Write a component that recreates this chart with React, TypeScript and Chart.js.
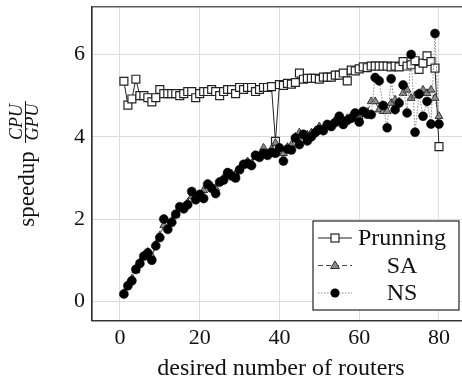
import React, { useEffect, useRef } from "react";
import { Chart, registerables } from "chart.js";

Chart.register(...registerables);

// desired number of routers (x values)
const routers: number[] = [
  1, 2, 3, 4, 5, 6, 7, 8, 9, 10, 11, 12, 13, 14, 15, 16, 17, 18, 19, 20,
  21, 22, 23, 24, 25, 26, 27, 28, 29, 30, 31, 32, 33, 34, 35, 36, 37, 38, 39, 40,
  41, 42, 43, 44, 45, 46, 47, 48, 49, 50, 51, 52, 53, 54, 55, 56, 57, 58, 59, 60,
  61, 62, 63, 64, 65, 66, 67, 68, 69, 70, 71, 72, 73, 74, 75, 76, 77, 78, 79, 80,
];

const prunning: number[] = [
  5.35, 4.77, 4.92, 5.4, 5.0, 5.0, 4.95, 4.85, 4.95, 5.15,
  5.05, 5.05, 5.05, 5.05, 5.0, 5.05, 5.1, 5.1, 4.95, 5.05,
  5.1, 5.1, 5.15, 5.1, 5.0, 5.1, 5.15, 5.15, 5.05, 5.2,
  5.15, 5.2, 5.2, 5.1, 5.15, 5.2, 5.2, 5.22, 3.89, 5.27,
  5.25, 5.3, 5.28, 5.32, 5.55, 5.4, 5.42, 5.42, 5.42, 5.4,
  5.45, 5.45, 5.45, 5.5, 5.5, 5.55, 5.36, 5.62, 5.6, 5.65,
  5.7, 5.68, 5.72, 5.72, 5.72, 5.72, 5.72, 5.7, 5.72, 5.7,
  5.83, 5.72, 5.75, 5.85, 5.64, 5.79, 5.97, 5.83, 5.67, 3.76,
];

const sa: number[] = [
  0.2, 0.42, 0.55, 0.75, 0.95, 1.08, 1.2, 1.1, 1.38, 1.6,
  1.85, 1.8, 1.95, 2.1, 2.25, 2.3, 2.4, 2.55, 2.55, 2.6,
  2.7, 2.8, 2.8, 2.75, 2.9, 3.0, 3.1, 3.1, 3.1, 3.2,
  3.3, 3.4, 3.35, 3.5, 3.55, 3.73, 3.6, 3.7, 3.85, 3.75,
  3.6, 3.75, 3.8, 4.0, 4.1, 4.0, 4.05, 4.1, 4.15, 4.25,
  4.2, 4.3, 4.3, 4.4, 4.4, 4.4, 4.45, 4.5, 4.5, 4.5,
  4.55, 4.6, 4.86, 4.86, 4.66, 4.62, 4.62, 4.82, 4.9, 4.85,
  5.06, 5.14, 4.94, 5.0, 5.06, 5.14, 5.06, 5.14, 4.94, 4.5,
];

const ns: number[] = [
  0.18, 0.38, 0.5, 0.78, 0.92, 1.1, 1.18, 1.0, 1.35, 1.55,
  2.0, 1.75, 1.92, 2.12, 2.3, 2.25, 2.35, 2.67, 2.47, 2.6,
  2.5, 2.85, 2.75, 2.62, 2.9, 2.95, 3.13, 3.05, 3.0, 3.2,
  3.33, 3.35, 3.3, 3.55, 3.5, 3.6, 3.55, 3.62, 3.6, 3.73,
  3.41, 3.7, 3.68, 3.97, 3.81, 4.06, 3.9, 4.0, 4.1, 4.18,
  4.15, 4.3, 4.25, 4.35, 4.5, 4.3, 4.4, 4.45, 4.58, 4.36,
  4.62, 4.55, 4.54, 5.44, 5.36, 4.76, 4.22, 5.41, 4.66, 4.82,
  5.26, 4.58, 6.0, 4.11, 5.04, 4.5, 4.86, 4.31, 6.51, 4.31,
];

const xTicks: number[] = [0, 20, 40, 60, 80];
const yTicks: number[] = [0, 2, 4, 6];
const legendLabels: string[] = ["Prunning", "SA", "NS"];

const SERIF = "'Liberation Serif', 'DejaVu Serif', serif";

function toPoints(ys: number[]) {
  return routers.map((x, i) => ({ x, y: ys[i] }));
}

function drawMarker(ctx: CanvasRenderingContext2D, kind: string, x: number, y: number) {
  ctx.save();
  ctx.setLineDash([]);
  if (kind === "rect") {
    ctx.fillStyle = "#ffffff";
    ctx.strokeStyle = "#222";
    ctx.lineWidth = 1.2;
    ctx.fillRect(x - 4, y - 4, 8, 8);
    ctx.strokeRect(x - 4, y - 4, 8, 8);
  } else if (kind === "triangle") {
    ctx.fillStyle = "#8a8a8a";
    ctx.strokeStyle = "#333";
    ctx.lineWidth = 1;
    ctx.beginPath();
    ctx.moveTo(x, y - 4.5);
    ctx.lineTo(x + 4.5, y + 3);
    ctx.lineTo(x - 4.5, y + 3);
    ctx.closePath();
    ctx.fill();
    ctx.stroke();
  } else {
    ctx.fillStyle = "#000";
    ctx.beginPath();
    ctx.arc(x, y, 4.5, 0, Math.PI * 2);
    ctx.fill();
  }
  ctx.restore();
}

const decorPlugin = {
  id: "decor",
  afterDraw(chart: any) {
    const { ctx, chartArea: a } = chart;
    ctx.save();
    // axis frame
    ctx.strokeStyle = "#333";
    ctx.lineWidth = 1.2;
    ctx.setLineDash([]);
    ctx.strokeRect(a.left, a.top, a.right - a.left, a.bottom - a.top);

    // x title
    ctx.fillStyle = "#111";
    ctx.font = `24px ${SERIF}`;
    ctx.textAlign = "center";
    ctx.textBaseline = "alphabetic";
    ctx.fillText("desired number of routers", 281, 375);

    // y title: speedup CPU/GPU
    ctx.save();
    ctx.translate(34, 189);
    ctx.rotate(-Math.PI / 2);
    ctx.font = `23px ${SERIF}`;
    ctx.textAlign = "center";
    ctx.textBaseline = "alphabetic";
    ctx.fillText("speedup", 0, 0);
    ctx.restore();

    ctx.save();
    ctx.translate(25, 122);
    ctx.rotate(-Math.PI / 2);
    ctx.font = `italic 18px ${SERIF}`;
    ctx.textAlign = "center";
    ctx.textBaseline = "alphabetic";
    ctx.fillText("CPU", 0, -3);
    ctx.fillText("GPU", 0, 13);
    ctx.strokeStyle = "#111";
    ctx.lineWidth = 1;
    ctx.beginPath();
    ctx.moveTo(-21, 0.5);
    ctx.lineTo(21, 0.5);
    ctx.stroke();
    ctx.restore();

    // legend
    const lx = 313, ly = 221, lw = 146, lh = 89;
    ctx.fillStyle = "#ffffff";
    ctx.fillRect(lx, ly, lw, lh);
    ctx.strokeStyle = "#222";
    ctx.lineWidth = 1.2;
    ctx.strokeRect(lx, ly, lw, lh);
    const rows = [238, 265.5, 293];
    const kinds = ["rect", "triangle", "circle"];
    const dashes = [[], [5, 3], [1.5, 1.5]];
    const colors = ["#222", "#444", "#888"];
    rows.forEach((ry, i) => {
      ctx.save();
      ctx.strokeStyle = colors[i];
      ctx.lineWidth = 1;
      ctx.setLineDash(dashes[i]);
      ctx.beginPath();
      ctx.moveTo(318, ry);
      ctx.lineTo(352, ry);
      ctx.stroke();
      ctx.restore();
      drawMarker(ctx, kinds[i], 335, ry);
      ctx.fillStyle = "#111";
      ctx.font = `24px ${SERIF}`;
      ctx.textAlign = "center";
      ctx.textBaseline = "middle";
      ctx.fillText(legendLabels[i], 402, ry + 1);
    });
    ctx.restore();
  },
};

export default function App() {
  const ref = useRef<HTMLCanvasElement | null>(null);

  useEffect(() => {
    if (!ref.current) return;
    const chart = new Chart(ref.current, {
      type: "scatter",
      data: {
        datasets: [
          {
            label: legendLabels[0],
            data: toPoints(prunning),
            showLine: true,
            borderColor: "#222",
            borderWidth: 1,
            pointStyle: "rect",
            pointRadius: 5.6,
            pointBackgroundColor: "#ffffff",
            pointBorderColor: "#222",
            pointBorderWidth: 1.2,
            order: 2,
          },
          {
            label: legendLabels[1],
            data: toPoints(sa),
            showLine: true,
            borderColor: "#444",
            borderWidth: 1,
            borderDash: [5, 3],
            pointStyle: "triangle",
            pointRadius: 4.5,
            pointBackgroundColor: "#8a8a8a",
            pointBorderColor: "#333",
            pointBorderWidth: 1,
            order: 1,
          },
          {
            label: legendLabels[2],
            data: toPoints(ns),
            showLine: true,
            borderColor: "#888",
            borderWidth: 1,
            borderDash: [1.5, 1.5],
            pointStyle: "circle",
            pointRadius: 4.5,
            pointBackgroundColor: "#000",
            pointBorderColor: "#000",
            pointBorderWidth: 0.5,
            order: 0,
          },
        ],
      },
      options: {
        responsive: false,
        animation: false,
        devicePixelRatio: 1,
        layout: { padding: { left: 0, top: 5.7, right: 9.5, bottom: 0 } },
        plugins: {
          legend: { display: false },
          tooltip: { enabled: false },
        },
        scales: {
          x: {
            type: "linear",
            min: -7,
            max: 87.9,
            afterFit: (s: any) => {
              s.height = 59.3;
              s.paddingLeft = 0;
              s.paddingRight = 0;
            },
            afterBuildTicks: (s: any) => {
              s.ticks = xTicks.map((v) => ({ value: v }));
            },
            ticks: {
              includeBounds: false,
              padding: 4.6,
              color: "#111",
              font: { family: SERIF, size: 22 },
              maxRotation: 0,
            },
            grid: { color: "#dcdcdc", lineWidth: 1, drawTicks: false },
            border: { display: true, color: "#333", width: 1.2 },
          },
          y: {
            type: "linear",
            min: -0.47,
            max: 7.16,
            afterFit: (s: any) => {
              s.width = 92;
              s.paddingTop = 0;
              s.paddingBottom = 0;
            },
            afterBuildTicks: (s: any) => {
              s.ticks = yTicks.map((v) => ({ value: v }));
            },
            ticks: {
              includeBounds: false,
              padding: 7,
              color: "#111",
              font: { family: SERIF, size: 22 },
            },
            grid: { color: "#dcdcdc", lineWidth: 1, drawTicks: false },
            border: { display: true, color: "#333", width: 1.2 },
          },
        },
      },
      plugins: [decorPlugin],
    });
    return () => chart.destroy();
  }, []);

  return (
    <div style={{ position: "fixed", left: 0, top: 0, width: 480, height: 380, background: "#fff" }}>
      <canvas ref={ref} width={480} height={380} style={{ display: "block" }} />
    </div>
  );
}
